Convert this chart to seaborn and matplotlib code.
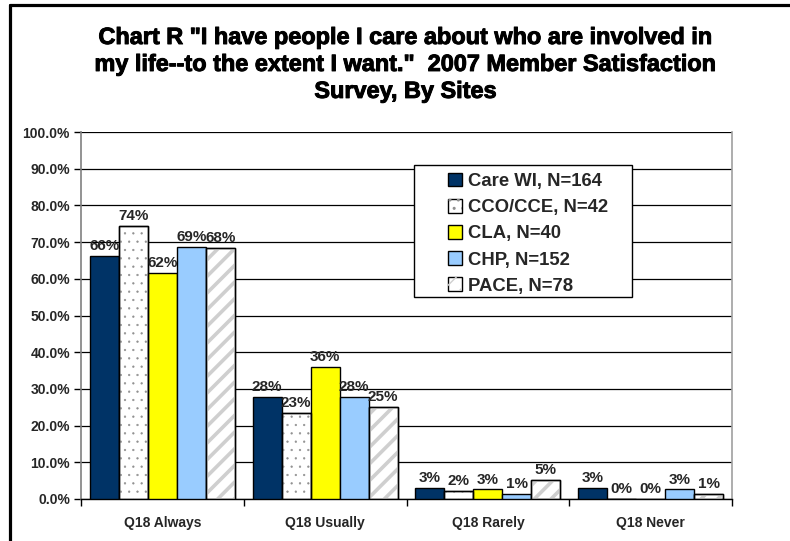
import matplotlib
matplotlib.use("Agg")
import matplotlib.pyplot as plt
import matplotlib.patheffects as pe
import seaborn as sns
import pandas as pd
from matplotlib.patches import Patch, Rectangle
from matplotlib.lines import Line2D
from matplotlib.ticker import MultipleLocator, FixedLocator

categories = ["Q18 Always", "Q18 Usually", "Q18 Rarely", "Q18 Never"]
sites = ["Care WI, N=164", "CCO/CCE, N=42", "CLA, N=40", "CHP, N=152", "PACE, N=78"]
care_wi = [66.2, 27.8, 3.1, 3.1]
cco_cce = [74.4, 23.4, 2.3, 0.0]
cla = [61.6, 36.0, 2.6, 0.0]
chp = [68.6, 27.8, 1.4, 2.6]
pace = [68.4, 25.1, 5.3, 1.4]
title = ('Chart R "I have people I care about who are involved in\n'
         'my life--to the extent I want."  2007 Member Satisfaction\n'
         'Survey, By Sites')

series = [care_wi, cco_cce, cla, chp, pace]
rows = []
for s, vals in zip(sites, series):
    for c, v in zip(categories, vals):
        rows.append({"category": c, "site": s, "value": v})
df = pd.DataFrame(rows)

sns.set_style("white")
plt.rcParams["font.family"] = ["Liberation Sans", "DejaVu Sans"]
plt.rcParams["font.weight"] = "bold"

fills = ["#003366", "#FFFFFF", "#FFFF00", "#99CCFF", "#FFFFFF"]
hatches = [None, "..", None, None, "//"]
hatch_cols = [None, "#909090", None, None, "#CFCFCF"]
hatch_lws = [None, 0.4, None, None, 2.6]

fig = plt.figure(figsize=(7.9, 5.41), dpi=100)
ax = fig.add_axes([81 / 790, 1 - 499 / 541, 651 / 790, 367 / 541])

sns.barplot(data=df, x="category", y="value", hue="site", order=categories,
            hue_order=sites, palette=fills, width=0.89, ax=ax,
            edgecolor="black", linewidth=1.0, saturation=1, legend=False,
            zorder=3)


def hatched(xy, w, h, i, **kw):
    with plt.rc_context({"hatch.linewidth": hatch_lws[i]}):
        r = Rectangle(xy, w, h, facecolor="none", edgecolor=hatch_cols[i],
                      hatch=hatches[i], linewidth=0, **kw)
    if hasattr(r, "set_hatch_linewidth"):
        r.set_hatch_linewidth(hatch_lws[i])
    return r


for i, cont in enumerate(ax.containers):
    for p in cont.patches:
        if hatches[i]:
            ax.add_patch(hatched(p.get_xy(), p.get_width(), p.get_height(), i,
                                 zorder=3.5))
            ax.add_patch(Rectangle(p.get_xy(), p.get_width(), p.get_height(),
                                   fill=False, edgecolor="black",
                                   linewidth=1.0, zorder=4))
    labels = [f"{round(v):.0f}%" for v in series[i]]
    ax.bar_label(cont, labels=labels, padding=2, fontsize=11,
                 fontweight="bold", zorder=5)

ax.set_ylim(0, 100)
ax.set_xlim(-0.5, len(categories) - 0.5)
ax.yaxis.set_major_locator(MultipleLocator(10))
ax.set_yticklabels([f"{t:.1f}%" for t in ax.get_yticks()])
ax.yaxis.grid(True, color="black", linewidth=0.9)
ax.set_axisbelow(True)
ax.set_xlabel("")
ax.set_ylabel("")
ax.tick_params(axis="y", direction="out", length=5, width=1, color="black",
               labelsize=10, pad=3, left=True)
ax.tick_params(axis="x", which="major", length=0, labelsize=10, pad=12)
ax.xaxis.set_minor_locator(FixedLocator([i - 0.5 for i in range(len(categories) + 1)]))
ax.tick_params(axis="x", which="minor", direction="out", length=5, width=1,
               color="black", bottom=True)
for lab in ax.get_xticklabels() + ax.get_yticklabels():
    lab.set_fontweight("bold")

ax.spines["left"].set_color("#808080")
ax.spines["left"].set_linewidth(1.2)
ax.spines["right"].set_color("#A0A0A0")
ax.spines["right"].set_linewidth(1.2)
ax.spines["top"].set_visible(False)
ax.spines["bottom"].set_color("black")
ax.spines["bottom"].set_linewidth(1.0)

# legend
handles = []
for i, s in enumerate(sites):
    outline = Patch(facecolor=fills[i], edgecolor="black", linewidth=1)
    if hatches[i]:
        handles.append((outline, hatched((0, 0), 1, 1, i)))
    else:
        handles.append(outline)
leg = ax.legend(handles, sites, loc="upper left",
                bbox_to_anchor=((448 - 81) / 651, (499 - 172.5) / 367),
                frameon=False, prop={"weight": "bold", "size": 13.3},
                handlelength=0.78, handleheight=0.78, handletextpad=0.3,
                labelspacing=0.48, borderpad=0, borderaxespad=0)
ax.add_patch(Rectangle(((414 - 81) / 651, (499 - 297) / 367),
                       (632 - 414) / 651, (297 - 165) / 367,
                       transform=ax.transAxes, facecolor="white",
                       edgecolor="black", linewidth=1.0, zorder=5))
leg.set_zorder(6)

fig.text(405.5 / 790, 1 - 26 / 541, title, ha="center", va="top",
         fontsize=16.9, fontweight="bold", linespacing=1.22, color="black",
         path_effects=[pe.withStroke(linewidth=0.7, foreground="black")])

# outer chart border (left and top visible)
fig.add_artist(Line2D([9.5 / 790, 9.5 / 790], [0, 1 - 4.5 / 541],
                      color="black", linewidth=2.3, transform=fig.transFigure))
fig.add_artist(Line2D([9.5 / 790, 1], [1 - 4.5 / 541, 1 - 4.5 / 541],
                      color="black", linewidth=2.3, transform=fig.transFigure))

fig.savefig("out.png", dpi=100)
